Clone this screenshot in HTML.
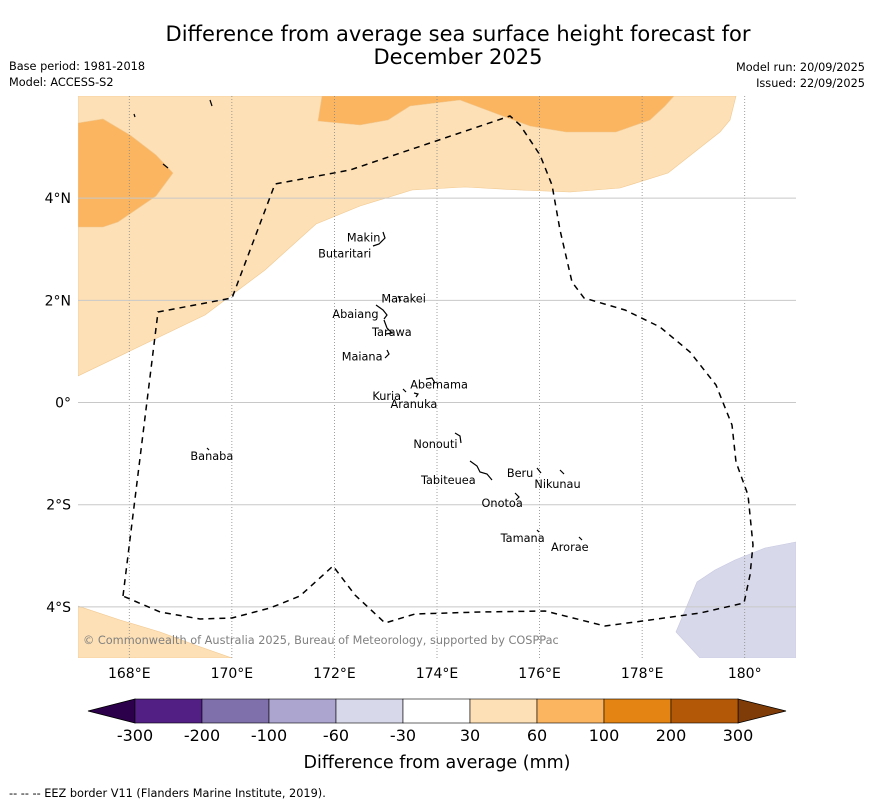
<!DOCTYPE html>
<html><head><meta charset="utf-8"><style>
body{margin:0;background:#fff;font-family:"DejaVu Sans","Liberation Sans",sans-serif;}
svg text{font-family:"DejaVu Sans","Liberation Sans",sans-serif;}
</style></head><body>
<svg id="chart" width="873" height="804" xmlns="http://www.w3.org/2000/svg">
<text x="458" y="41" font-size="21" text-anchor="middle">Difference from average sea surface height forecast for</text>
<text x="458" y="64" font-size="21" text-anchor="middle">December 2025</text>
<text x="9" y="70" font-size="11.3">Base period: 1981-2018</text>
<text x="9" y="86" font-size="11.3">Model: ACCESS-S2</text>
<text x="865" y="71" font-size="11.3" text-anchor="end">Model run: 20/09/2025</text>
<text x="865" y="87" font-size="11.3" text-anchor="end">Issued: 22/09/2025</text>
<g id="map"></g>
<g id="cbar"></g>
<text x="437" y="768" font-size="17.5" text-anchor="middle">Difference from average (mm)</text>
<text x="9" y="797" font-size="11.3">--  --  -- EEZ border V11 (Flanders Marine Institute, 2019).</text>
</svg>
<script>
const lonTicks=[168,170,172,174,176,178,180];
const lonLabels=["168°E","170°E","172°E","174°E","176°E","178°E","180°"];
const latTicks=[4,2,0,-2,-4];
const latLabels=["4°N","2°N","0°","2°S","4°S"];
const cbLevels=["-300","-200","-100","-60","-30","30","60","100","200","300"];
const cbColors=["#521f85","#7f6fab","#aca5d0","#d8d8eb","#ffffff","#fde0b5","#fbb45f","#e38413","#b35806"];
const islandNames=["Makin","Butaritari","Marakei","Abaiang","Tarawa","Maiana","Abemama","Kuria","Aranuka","Nonouti","Tabiteuea","Beru","Nikunau","Onotoa","Tamana","Arorae","Banaba"];
const islandLon=[172.57,172.2,173.35,172.41,173.12,172.54,174.04,173.02,173.55,173.97,174.22,175.62,176.35,175.27,175.67,176.59,169.61];
const islandLat=[3.23,2.92,2.04,1.73,1.38,0.9,0.35,0.13,-0.03,-0.81,-1.52,-1.38,-1.59,-1.97,-2.65,-2.83,-1.05];
const L0=167,L1=181,T0=6,T1=-5,X0=78,X1=796,Y0=96,Y1=658;
const X=l=>X0+(l-L0)/(L1-L0)*(X1-X0);
const Y=a=>Y0+(T0-a)/(T0-T1)*(Y1-Y0);
const px=(x)=>L0+(x-X0)/(X1-X0)*(L1-L0), py=(y)=>T0-(y-Y0)/(Y1-Y0)*(T0-T1);
function toLL(pts){return pts.map(p=>[px(p[0]),py(p[1])]);}
const light=toLL([[78,376],[205,315],[265,270],[316,224],[360,206],[412,190],[465,187],[520,190],[570,192],[620,188],[668,173],[720,132],[730,120],[736,96],[78,96]]);
const blobL=toLL([[78,123],[103,119],[130,135],[156,155],[173,173],[156,196],[118,222],[103,227],[78,227]]);
const blobT=toLL([[322,96],[318,121],[360,125],[388,120],[410,106],[460,100],[500,115],[530,126],[566,132],[616,132],[650,120],[665,106],[674,96]]);
const lightBL=toLL([[78,606],[120,620],[160,632],[195,645],[232,658],[78,658]]);
const purpleBR=toLL([[796,542],[765,548],[735,560],[715,570],[697,582],[676,632],[700,658],[796,658]]);
const eez=toLL([[123,596],[158,312],[232,298],[275,184],[350,170],[430,143],[510,116],[520,125],[540,155],[552,185],[560,230],[572,282],[584,298],[625,310],[660,327],[690,352],[716,385],[732,425],[736,462],[748,495],[753,545],[750,575],[744,603],[700,613],[650,620],[605,626],[545,611],[480,612],[415,614],[385,623],[355,595],[333,566],[300,596],[270,608],[232,618],[200,619],[160,612],[123,596]]);
const atolls=[[[383,232],[385,238],[379,244],[373,246]],[[398,296],[401,301]],[[376,305],[383,310],[387,315],[384,319]],[[384,320],[387,328],[392,333],[386,334]],[[387,350],[389,354],[385,358]],[[426,379],[432,378],[435,383]],[[403,389],[406,392]],[[414,393],[418,394],[416,397]],[[455,433],[460,436],[461,443]],[[470,461],[477,466],[480,472],[487,474],[492,480]],[[537,468],[541,473]],[[560,470],[564,474]],[[515,493],[519,497],[516,500]],[[537,530],[539,532]],[[579,537],[582,540]],[[207,448],[209,450]],[[210,100],[212,106]],[[134,114],[135,117]],[[163,164],[168,168]]];
const NS="http://www.w3.org/2000/svg";
function mk(tag,attrs,parent){const e=document.createElementNS(NS,tag);for(const k in attrs)e.setAttribute(k,attrs[k]);parent.appendChild(e);return e;}
const map=document.getElementById('map');
const cp=mk('clipPath',{id:'clip'},map);mk('rect',{x:X0,y:Y0,width:X1-X0,height:Y1-Y0},cp);
const g=mk('g',{'clip-path':'url(#clip)'},map);
function poly(pts,fill,name){const p=mk('polygon',{points:pts.map(q=>X(q[0])+','+Y(q[1])).join(' '),fill:fill,stroke:fill==='#d8d8eb'?'#c8c8e0':'#f0c890','stroke-width':0.6},g);

}
poly(light,'#fde0b5','contour-30-60-north');
poly(blobL,'#fbb45f','contour-60-100-west');
poly(blobT,'#fbb45f','contour-60-100-north');
poly(lightBL,'#fde0b5','contour-30-60-southwest');
poly(purpleBR,'#d8d8eb','contour-neg60-neg30-southeast');
lonTicks.forEach((l,i)=>{const ln=mk('line',{x1:X(l),x2:X(l),y1:Y0,y2:Y1,stroke:'#888','stroke-width':0.8,'stroke-dasharray':'1,2'},g);


const t=mk('text',{x:X(l),y:678,'font-size':14,'text-anchor':'middle'},map);t.textContent=lonLabels[i];

});
latTicks.forEach((a,i)=>{const ln=mk('line',{x1:X0,x2:X1,y1:Y(a),y2:Y(a),stroke:'#c8c8c8','stroke-width':1},g);


const t=mk('text',{x:71,y:Y(a)+5,'font-size':14,'text-anchor':'end'},map);t.textContent=latLabels[i];

});
const e=mk('polyline',{points:eez.map(q=>X(q[0])+','+Y(q[1])).join(' '),fill:'none',stroke:'#000','stroke-width':1.5,'stroke-dasharray':'6,5'},g);


atolls.forEach(a=>{const p=mk('polyline',{points:toLL(a).map(q=>X(q[0])+','+Y(q[1])).join(' '),fill:'none',stroke:'#000','stroke-width':1.2},g);

});
islandNames.forEach((n,i)=>{const x=X(islandLon[i]),y=Y(islandLat[i]);
const t=mk('text',{x:x,y:y+4,'font-size':11.3,'text-anchor':'middle'},g);t.textContent=n;

});
const wm=mk('text',{x:83,y:644,'font-size':11.3,fill:'#808080'},g);wm.textContent='© Commonwealth of Australia 2025, Bureau of Meteorology, supported by COSPPac';


const cb=document.getElementById('cbar');
const cbx0=135,cbx1=738,cy0=699,cy1=723,w=(cbx1-cbx0)/cbColors.length;
const lt=mk('polygon',{points:`88,711 ${cbx0},${cy0} ${cbx0},${cy1}`,fill:'#2d004b',stroke:'#000','stroke-width':0.8},cb);


const rt=mk('polygon',{points:`786,711 ${cbx1},${cy0} ${cbx1},${cy1}`,fill:'#7f3b08',stroke:'#000','stroke-width':0.8},cb);


cbColors.forEach((c,i)=>{const r=mk('rect',{x:cbx0+i*w,y:cy0,width:w,height:cy1-cy0,fill:c,stroke:'#000','stroke-width':0.6},cb);

});
cbLevels.forEach((v,i)=>{const t=mk('text',{x:cbx0+i*w,y:741,'font-size':16,'text-anchor':'middle'},cb);t.textContent=v;

});
</script>
</body></html>
